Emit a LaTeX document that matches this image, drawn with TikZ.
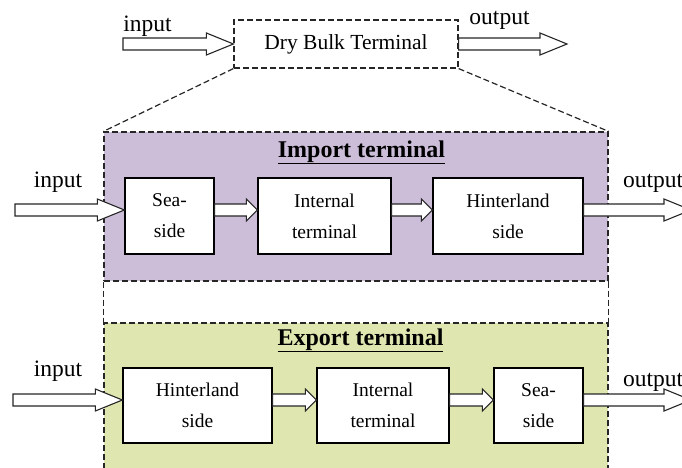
\documentclass[tikz,border=0pt]{standalone}
\usepackage{fontspec}
\setmainfont{Liberation Serif}
\usetikzlibrary{calc}
\definecolor{impfill}{RGB}{204,190,216}
\definecolor{expfill}{RGB}{224,230,176}
\newcommand\barrow[3][27]{\draw[blockarrow] let \p1=(#2), \p2=(#3) in
  (\x1,{\y2+6pt}) -- ({\x2-#1pt},{\y2+6pt}) -- ({\x2-#1pt},{\y2+11pt}) -- (\x2,\y2)
  -- ({\x2-#1pt},{\y2-11pt}) -- ({\x2-#1pt},{\y2-6pt}) -- (\x1,{\y2-6pt}) -- cycle;}
\tikzset{
  lbl/.style={font=\fontsize{23.5}{28}\selectfont, inner sep=0},
  unitbox/.style={draw, line width=1.3pt, fill=white, align=center,
    font=\fontsize{19.5}{31}\selectfont, minimum height=76pt, inner sep=0},
  region/.style={draw=black!85, dash pattern=on 6pt off 3pt, line width=1.2pt, inner sep=0},
  dashline/.style={draw=black!85, dash pattern=on 6pt off 3pt, line width=1.2pt},
  blockarrow/.style={draw=black!85, fill=white, line width=1.1pt, line join=miter},
  titletext/.style={font=\fontsize{24}{28}\selectfont\bfseries, inner sep=0}
}
\begin{document}
\begin{tikzpicture}[x=1pt,y=-1pt]
\useasboundingbox (0,0) rectangle (682,468);
\clip (0,0) rectangle (682,468);
% top
\node[region, minimum width=224pt, minimum height=48pt, font=\fontsize{21.5}{26}\selectfont] (dbt) at (346,44) {Dry Bulk Terminal};
% regions
\node[region, fill=impfill, minimum width=504pt, minimum height=149pt] (imp) at (356,206.5) {};
\node[region, fill=expfill, minimum width=504pt, minimum height=157pt] (exp) at (356,401.5) {};
\draw[dashline] (dbt.south west) -- (imp.north west);
\draw[dashline] (dbt.south east) -- (imp.north east);
\draw[dashline] (imp.south west) -- (exp.north west);
\draw[dashline] (imp.south east) -- (exp.north east);
% titles
\node[titletext, anchor=base] (impt) at (361.5,157) {\underline{Import terminal}};
\node[titletext, anchor=base] (expt) at (360.5,345) {\underline{Export terminal}};
% import units
\node[unitbox, minimum width=89pt] (sea1) at (169.5,216) {Sea-\\side};
\node[unitbox, minimum width=133pt] (int1) at (324.5,216) {Internal\\terminal};
\node[unitbox, minimum width=150pt] (hin1) at (508,216) {Hinterland\\side};
% export units
\node[unitbox, minimum width=149pt, minimum height=75pt] (hin2) at (197.5,405.5) {Hinterland\\side};
\node[unitbox, minimum width=132pt, minimum height=75pt] (int2) at (383,405.5) {Internal\\terminal};
\node[unitbox, minimum width=89pt, minimum height=75pt] (sea2) at (538.5,405.5) {Sea-\\side};
% free arrow ends
\coordinate (in0) at (123,44);
\coordinate (out0) at (567,44);
\coordinate (in1) at (15,210);
\coordinate (out1) at (691,210);
\coordinate (in2) at (13,400);
\coordinate (out2) at (691,400);
% arrows
\barrow{in0}{dbt.west}
\barrow{dbt.east}{out0}
\barrow{in1}{$(sea1.west)+(0,-6)$}
\barrow[11]{sea1.east}{$(int1.west)+(0,-6)$}
\barrow[11]{int1.east}{$(hin1.west)+(0,-6)$}
\barrow{hin1.east}{out1}
\barrow{in2}{$(hin2.west)+(0,-5.5)$}
\barrow[11]{hin2.east}{$(int2.west)+(0,-5.5)$}
\barrow[11]{int2.east}{$(sea2.west)+(0,-5.5)$}
\barrow{sea2.east}{out2}
% labels
\node[lbl, anchor=base] (lin0) at (147.5,32) {input};
\node[lbl, anchor=base] (lout0) at (499.5,25) {output};
\node[lbl, anchor=base] (lin1) at (58,187) {input};
\node[lbl, anchor=base west] (lout1) at (623,187) {output};
\node[lbl, anchor=base] (lin2) at (58,376) {input};
\node[lbl, anchor=base west] (lout2) at (623,386) {output};
\end{tikzpicture}
\end{document}
